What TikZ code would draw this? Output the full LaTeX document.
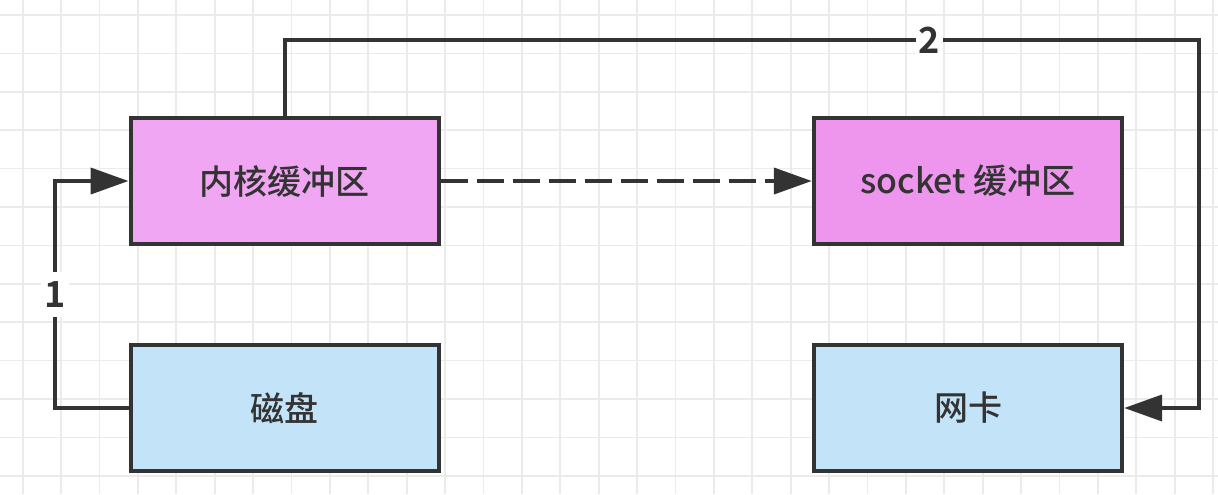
\documentclass[tikz,border=0pt]{standalone}
\usepackage{fontspec}
\setmainfont{Noto Sans CJK SC}[UprightFont=* Medium, BoldFont=* Bold]
\usetikzlibrary{arrows.meta}

\definecolor{linedark}{HTML}{333333}
\definecolor{gridgray}{HTML}{EBEBEB}
\definecolor{kernelpink}{HTML}{F0A6F2}
\definecolor{socketpink}{HTML}{EE96EE}
\definecolor{devblue}{HTML}{C3E4F8}

\tikzset{
  buffer/.style={draw=linedark, line width=2.2pt, minimum width=154pt,
    minimum height=63pt, inner sep=0pt, text=linedark,
    font=\fontsize{17pt}{20pt}\selectfont},
  conn/.style={draw=linedark, line width=2pt,
    -{Triangle[length=19pt,width=13pt]}},
  steplabel/.style={fill=white, inner xsep=1.5pt, inner ysep=5pt, text=linedark,
    font=\fontsize{18pt}{20pt}\selectfont\bfseries},
}

\begin{document}
\begin{tikzpicture}[x=0.5pt, y=-0.5pt]
  \useasboundingbox (0,0) rectangle (1218,494);
  \fill[white] (0,0) rectangle (1218,494);

  % background grid
  \foreach \i in {0,...,31} {
    \draw[gridgray, line width=0.85pt] ({22.7+38.4*\i},0) -- ({22.7+38.4*\i},494);
  }
  \foreach \j in {0,...,12} {
    \draw[gridgray, line width=0.85pt] (0,{15+38.4*\j}) -- (1218,{15+38.4*\j});
  }

  % buffers and devices
  \node[buffer, fill=kernelpink] (kernel) at (284.7,181) {内核缓冲区};
  \node[buffer, fill=socketpink] (socket) at (968,181) {socket 缓冲区};
  \node[buffer, fill=devblue]    (disk)   at (284.7,408) {磁盘};
  \node[buffer, fill=devblue]    (nic)    at (968,408) {网卡};

  % routing guides for the elbow connectors
  \coordinate (lft) at (55,0);
  \coordinate (top) at (0,40);
  \coordinate (rgt) at (1199,0);

  % step 1: disk -> kernel buffer
  \draw[conn] (disk.west) -- (disk.west -| lft)
    -- node[steplabel] {1} (kernel.west -| lft) -- (kernel.west);

  % step 2: kernel buffer -> network card
  \draw[conn] (kernel.north) -- (kernel.north |- top)
    -- node[steplabel, inner ysep=1.5pt, pos=0.705] {2} (top -| rgt)
    -- (nic.east -| rgt) -- (nic.east);

  % copy into the socket buffer
  \draw[conn, dash pattern=on 13.3pt off 4.7pt] (kernel.east) -- (socket.west);
\end{tikzpicture}
\end{document}
